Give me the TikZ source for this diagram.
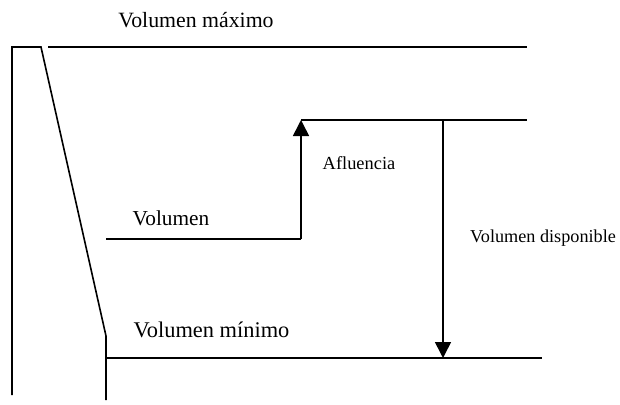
\documentclass[tikz,border=0pt]{standalone}
\usepackage{fontspec}
\setmainfont{Liberation Serif}
\usetikzlibrary{arrows.meta}
\begin{document}
\begin{tikzpicture}[x=1pt,y=-1pt,
  ln/.style={line width=1.6pt},
  arr/.style={ln,-{Triangle[width=16pt,length=16pt]}},
  lbl/.style={anchor=base,inner sep=0pt}]
\useasboundingbox (0,0) rectangle (620,404);
% dam
\coordinate (d1) at (12,395);
\coordinate (d2) at (12,47);
\coordinate (d3) at (41,47);
\coordinate (d4) at (106,336);
\coordinate (d5) at (106,400);
\draw[ln,line join=miter] (d1) -- (d2) -- (d3) -- (d4) -- (d5);
% levels
\coordinate (mx1) at (48,47);
\coordinate (mx2) at (527,47);
\draw[ln] (mx1) -- (mx2);
\coordinate (v1) at (106,239);
\coordinate (v2) at (301,239);
\coordinate (u1) at (301,120);
\coordinate (u2) at (527,120);
\draw[ln] (v1) -- (v2);
\draw[arr] (v2) -- (u1);
\draw[ln] (u1) -- (u2);
\coordinate (mn1) at (106,358);
\coordinate (mn2) at (542,358);
\draw[ln] (mn1) -- (mn2);
\coordinate (a1) at (443,120);
\coordinate (a2) at (443,358);
\draw[arr] (a1) -- (a2);
% labels
\node[lbl,font=\fontsize{21.8}{24}\selectfont] (tmax) at (196,28) {Volumen máximo};
\node[lbl,font=\fontsize{18.4}{21}\selectfont] (taf) at (359,169) {Afluencia};
\node[lbl,font=\fontsize{21.3}{24}\selectfont] (tvol) at (171,225) {Volumen};
\node[lbl,font=\fontsize{18.2}{21}\selectfont] (tdisp) at (543,242) {Volumen disponible};
\node[lbl,font=\fontsize{22.4}{24}\selectfont] (tmin) at (211.5,337) {Volumen mínimo};
\end{tikzpicture}
\end{document}
